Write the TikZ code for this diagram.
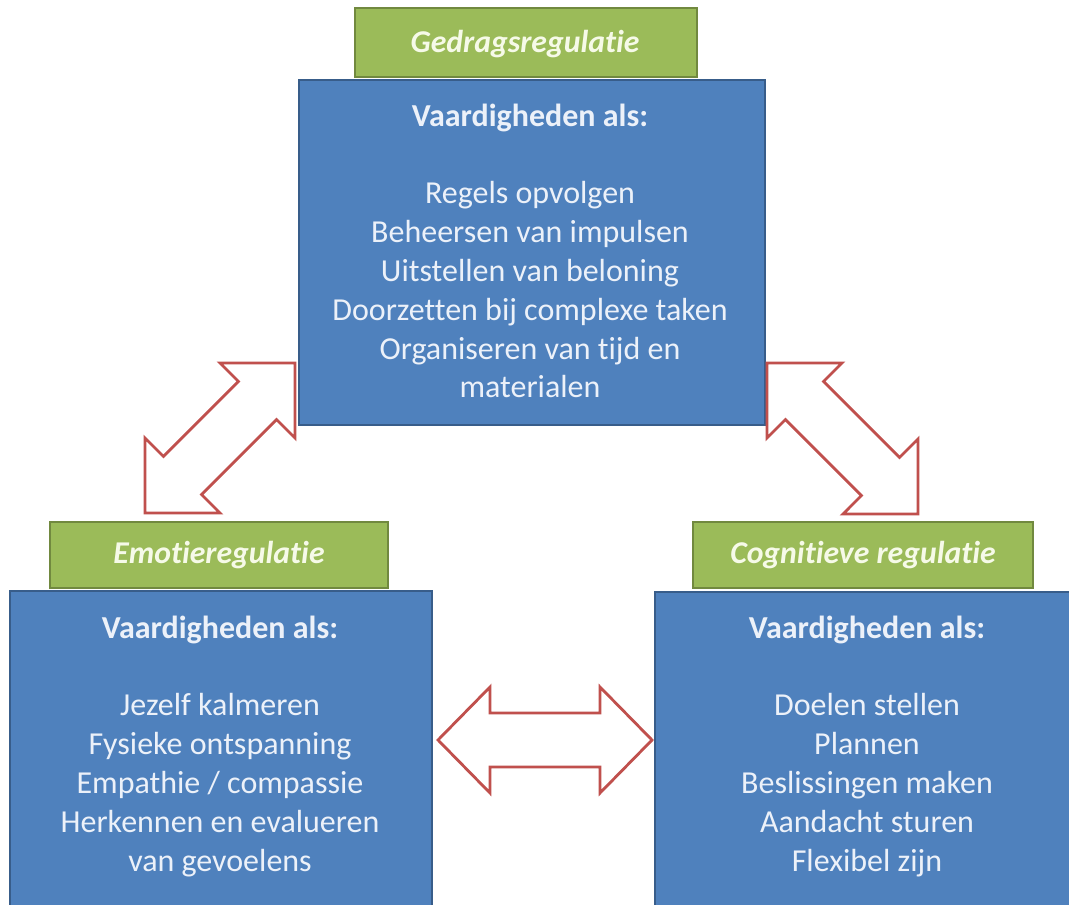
\documentclass[tikz,border=0pt]{standalone}
\usepackage{fontspec}
\setmainfont[Ligatures=NoCommon]{Carlito}
\usetikzlibrary{fit}
\definecolor{boxblue}{RGB}{79,129,189}
\definecolor{boxblueline}{RGB}{56,93,138}
\definecolor{boxgreen}{RGB}{155,187,89}
\definecolor{boxgreenline}{RGB}{113,137,63}
\definecolor{arrowred}{RGB}{192,80,77}
\definecolor{bluetext}{RGB}{236,241,249}
\definecolor{greentext}{RGB}{246,250,232}
\begin{document}
\begin{tikzpicture}[x=0.75pt,y=-0.75pt,
 bluebox/.style={draw=boxblueline, line width=1.5pt, fill=boxblue, inner sep=0pt},
 greenbox/.style={draw=boxgreenline, line width=1.5pt, fill=boxgreen, inner sep=0pt},
 titletext/.style={text=greentext, font=\fontsize{23.8}{28}\selectfont\bfseries\itshape, inner sep=0pt, anchor=base},
 bodytext/.style={text=bluetext, font=\fontsize{24}{29.1}\selectfont, align=center, inner sep=0pt, anchor=north},
 blockarrow/.style={draw=arrowred, line width=2.1pt, fill=white, line join=miter}
]
\useasboundingbox (0,0) rectangle (1069,905);
\clip (0,0) rectangle (1069,905);
\fill[white] (0,0) rectangle (1069,905);

% top
\node[greenbox, fit={(355,8)(697,77)}] (gtop) {};
\node[bluebox, fit={(299,80)(765,425)}] (btop) {};
\node[titletext] (ttop) at (525,53) {Gedragsregulatie};
\node[bodytext] (xtop) at (530,98.8) {\strut\textbf{Vaardigheden als:}\\ \mbox{}\\ Regels opvolgen\\ Beheersen van impulsen\\ Uitstellen van beloning\\ Doorzetten bij complexe taken\\ Organiseren van tijd en\\ materialen};

% left
\node[greenbox, fit={(50,522)(388,588)}] (gleft) {};
\node[bluebox, fit={(10,591)(432,930)}] (bleft) {};
\node[titletext] (tleft) at (219,563) {Emotieregulatie};
\node[bodytext] (xleft) at (220,610.8) {\strut\textbf{Vaardigheden als:}\\ \mbox{}\\ Jezelf kalmeren\\ Fysieke ontspanning\\ Empathie / compassie\\ Herkennen en evalueren\\ van gevoelens};

% right
\node[greenbox, fit={(693,522)(1033,588)}] (gright) {};
\node[bluebox, fit={(655,592)(1085,930)}] (bright) {};
\node[titletext] (tright) at (863,563) {Cognitieve regulatie};
\node[bodytext] (xright) at (867,610.8) {\strut\textbf{Vaardigheden als:}\\ \mbox{}\\ Doelen stellen\\ Plannen\\ Beslissingen maken\\ Aandacht sturen\\ Flexibel zijn};

% block arrows
\draw[blockarrow] (295,363) -- (220,363) -- (238.4,381.4) -- (163.4,456.4) -- (145,438) -- (145,513) -- (220,513) -- (201.6,494.6) -- (276.6,419.6) -- (295,438) -- cycle;
\draw[blockarrow] (767,363) -- (842,363) -- (823.6,381.4) -- (899.6,457.4) -- (918,439) -- (918,514) -- (843,514) -- (861.4,495.6) -- (785.4,419.6) -- (767,438) -- cycle;
\draw[blockarrow] (438,740) -- (490,687) -- (490,713) -- (600,713) -- (600,687) -- (652,740) -- (600,793) -- (600,767) -- (490,767) -- (490,793) -- cycle;
\end{tikzpicture}
\end{document}
